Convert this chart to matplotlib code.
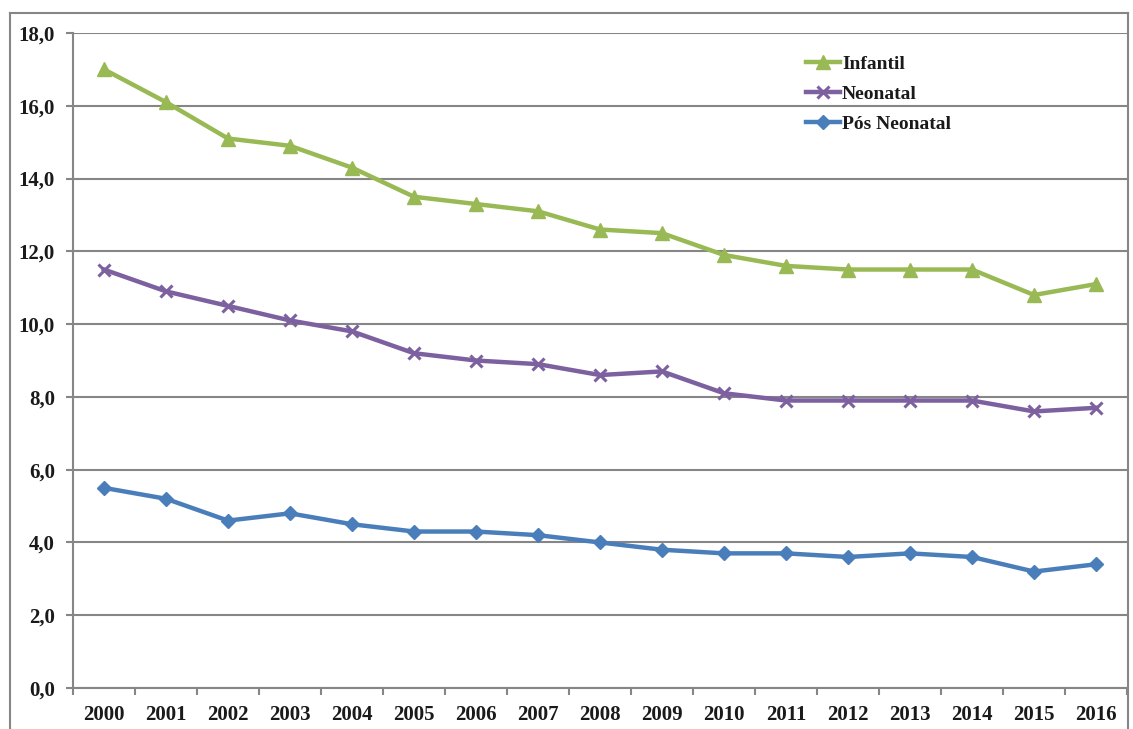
import matplotlib
matplotlib.use("Agg")
import matplotlib.pyplot as plt
from matplotlib.lines import Line2D

years = ["2000", "2001", "2002", "2003", "2004", "2005", "2006", "2007", "2008",
         "2009", "2010", "2011", "2012", "2013", "2014", "2015", "2016"]
infantil = [17.0, 16.1, 15.1, 14.9, 14.3, 13.5, 13.3, 13.1, 12.6, 12.5, 11.9, 11.6, 11.5, 11.5, 11.5, 10.8, 11.1]
neonatal = [11.5, 10.9, 10.5, 10.1, 9.8, 9.2, 9.0, 8.9, 8.6, 8.7, 8.1, 7.9, 7.9, 7.9, 7.9, 7.6, 7.7]
pos_neonatal = [5.5, 5.2, 4.6, 4.8, 4.5, 4.3, 4.3, 4.2, 4.0, 3.8, 3.7, 3.7, 3.6, 3.7, 3.6, 3.2, 3.4]
yticks = [0, 2, 4, 6, 8, 10, 12, 14, 16, 18]
ytick_labels = ["0,0", "2,0", "4,0", "6,0", "8,0", "10,0", "12,0", "14,0", "16,0", "18,0"]

plt.rcParams['font.family'] = ['Liberation Serif', 'DejaVu Serif']
plt.rcParams['font.weight'] = 'bold'

W, H = 1133, 729
fig = plt.figure(figsize=(W / 100, H / 100), dpi=100)
ax = fig.add_axes([73 / W, (H - 688) / H, (1127 - 73) / W, (688 - 33) / H])

grey = '#868686'
x = list(range(len(years)))
ax.plot(x, infantil, color='#98B954', lw=3.2, marker='^', ms=10, label='Infantil', zorder=5)
ax.plot(x, neonatal, color='#7D60A0', lw=3.2, marker='x', ms=9, mew=2.2, label='Neonatal', zorder=5)
ax.plot(x, pos_neonatal, color='#4A7EBB', lw=3.2, marker='D', ms=7, label='Pós Neonatal', zorder=5)

ax.set_xlim(-0.5, len(years) - 0.5)
ax.set_ylim(0, 18)
ax.set_yticks(yticks)
ax.set_yticklabels(ytick_labels)
ax.set_xticks(x)
ax.set_xticklabels(years)
ax.set_xticks([i - 0.5 for i in range(len(years) + 1)], minor=True)

ax.grid(axis='y', color=grey, lw=1.5)
ax.set_axisbelow(True)
for s in ['top', 'right']:
    ax.spines[s].set_visible(False)
for s in ['left', 'bottom']:
    ax.spines[s].set_color(grey)
    ax.spines[s].set_linewidth(1.5)

ax.tick_params(axis='y', length=5, width=1.5, color=grey, labelsize=15, pad=8)
ax.tick_params(axis='x', which='major', length=0, labelsize=15, pad=12)
ax.tick_params(axis='x', which='minor', length=5, width=1.5, color=grey)
for lbl in ax.get_xticklabels() + ax.get_yticklabels():
    lbl.set_fontweight('bold')
    lbl.set_color('#1a1a1a')

leg = ax.legend(loc='upper left', bbox_to_anchor=(806 / W, (H - 55) / H),
                bbox_transform=fig.transFigure, frameon=False,
                prop={'size': 14, 'weight': 'bold'}, handlelength=1.75,
                handletextpad=0.1, labelspacing=0.65, borderpad=0, borderaxespad=0)
for t in leg.get_texts():
    t.set_color('#1a1a1a')

# chart area border
fig.add_artist(Line2D([10 / W, 1128 / W], [(H - 13) / H, (H - 13) / H], color=grey, lw=1.5, transform=fig.transFigure))
fig.add_artist(Line2D([10 / W, 10 / W], [0, (H - 13) / H], color=grey, lw=1.5, transform=fig.transFigure))
fig.add_artist(Line2D([1128 / W, 1128 / W], [0, (H - 13) / H], color=grey, lw=1.5, transform=fig.transFigure))

fig.savefig('out.png', dpi=100)
